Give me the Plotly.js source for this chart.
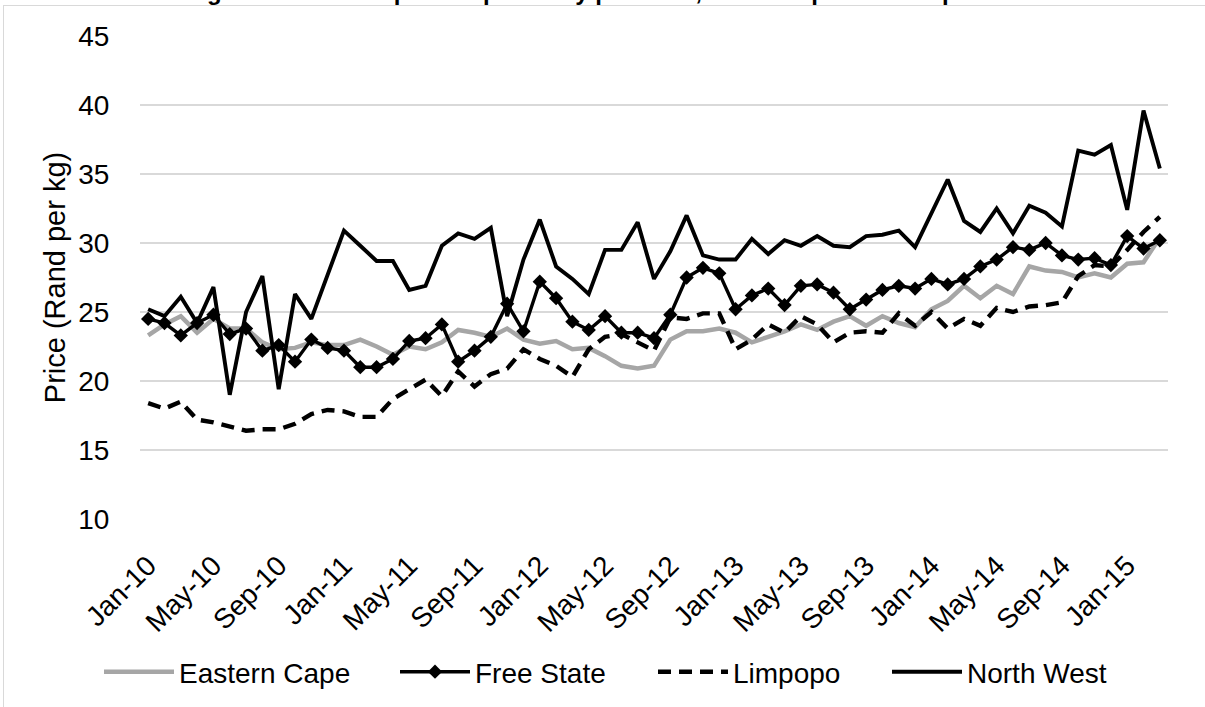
<!DOCTYPE html>
<html>
<head>
<meta charset="utf-8">
<script src="https://cdn.plot.ly/plotly-3.0.1.min.js"></script>
<style>
  html, body { margin: 0; padding: 0; background: #ffffff; }
  #wrap { position: relative; width: 1205px; height: 707px; overflow: hidden; }
  #chart { width: 1205px; height: 707px; }
  #frame { position: absolute; left: 3px; top: 5px; width: 1300px; height: 800px;
           border-left: 1.5px solid #d9d9d9; border-top: 1.5px solid #d9d9d9; pointer-events: none; }
</style>
</head>
<body>
<div id="wrap">
  <div id="chart"></div>
  <div id="frame"></div>
</div>
<script>
// Months (categories)
const months = [
  "Jan-10","Feb-10","Mar-10","Apr-10","May-10","Jun-10","Jul-10","Aug-10","Sep-10","Oct-10","Nov-10","Dec-10",
  "Jan-11","Feb-11","Mar-11","Apr-11","May-11","Jun-11","Jul-11","Aug-11","Sep-11","Oct-11","Nov-11","Dec-11",
  "Jan-12","Feb-12","Mar-12","Apr-12","May-12","Jun-12","Jul-12","Aug-12","Sep-12","Oct-12","Nov-12","Dec-12",
  "Jan-13","Feb-13","Mar-13","Apr-13","May-13","Jun-13","Jul-13","Aug-13","Sep-13","Oct-13","Nov-13","Dec-13",
  "Jan-14","Feb-14","Mar-14","Apr-14","May-14","Jun-14","Jul-14","Aug-14","Sep-14","Oct-14","Nov-14","Dec-14",
  "Jan-15","Feb-15","Mar-15"
];

// Tick labels shown on the x axis
const tickLabels = ["Jan-10","May-10","Sep-10","Jan-11","May-11","Sep-11","Jan-12","May-12","Sep-12",
                    "Jan-13","May-13","Sep-13","Jan-14","May-14","Sep-14","Jan-15"];

// Series values (Rand per kg)
const easternCape = [
  23.3,24.1,24.7,23.5,24.5,23.8,23.8,22.8,22.3,22.4,22.8,22.6,
  22.6,23.0,22.5,21.9,22.5,22.3,22.8,23.7,23.5,23.2,23.8,23.0,
  22.7,22.9,22.3,22.4,21.8,21.1,20.9,21.1,23.0,23.6,23.6,23.8,
  23.5,22.8,23.2,23.6,24.1,23.7,24.3,24.7,24.0,24.7,24.2,23.9,
  25.2,25.8,26.9,26.0,26.9,26.3,28.3,28.0,27.9,27.5,27.8,27.5,
  28.5,28.6,30.4
];
const freeState = [
  24.5,24.2,23.3,24.2,24.8,23.4,23.8,22.2,22.6,21.4,23.0,22.4,
  22.2,21.0,21.0,21.6,22.9,23.1,24.1,21.4,22.2,23.2,25.6,23.6,
  27.2,26.0,24.3,23.7,24.7,23.5,23.5,23.1,24.8,27.5,28.2,27.8,
  25.2,26.2,26.7,25.5,26.9,27.0,26.4,25.2,25.9,26.6,26.9,26.7,
  27.4,27.0,27.4,28.3,28.8,29.7,29.5,30.0,29.1,28.8,28.9,28.4,
  30.5,29.6,30.2
];
const limpopo = [
  18.4,18.0,18.5,17.2,17.0,16.7,16.4,16.5,16.5,16.9,17.6,17.9,
  17.8,17.4,17.4,18.7,19.4,20.1,18.9,20.7,19.6,20.5,20.9,22.3,
  21.6,21.1,20.3,22.3,23.2,23.4,22.8,22.2,24.6,24.5,24.9,24.9,
  22.3,23.0,24.1,23.5,24.7,24.1,22.8,23.5,23.6,23.5,24.9,24.0,
  25.0,23.8,24.5,24.0,25.3,25.0,25.4,25.5,25.7,27.6,28.4,28.3,
  29.5,30.8,31.9
];
const northWest = [
  25.2,24.7,26.1,24.2,26.8,19.0,25.0,27.6,19.4,26.3,24.5,27.7,
  30.9,29.8,28.7,28.7,26.6,26.9,29.8,30.7,30.3,31.1,24.7,28.8,
  31.7,28.3,27.4,26.3,29.5,29.5,31.5,27.4,29.4,32.0,29.1,28.8,
  28.8,30.3,29.2,30.2,29.8,30.5,29.8,29.7,30.5,30.6,30.9,29.7,
  32.2,34.6,31.6,30.8,32.5,30.7,32.7,32.2,31.2,36.7,36.4,37.1,
  32.4,39.6,35.4
];

const FONT = "Liberation Sans, Arial, sans-serif";

const traces = [
  {
    x: months, y: easternCape, name: "Eastern Cape", type: "scatter", mode: "lines",
    line: { color: "#a6a6a6", width: 4.5 }, legend: "legend"
  },
  {
    x: months, y: freeState, name: "Free State", type: "scatter", mode: "lines+markers",
    line: { color: "#000000", width: 3.4 },
    marker: { symbol: "diamond", size: 11, color: "#000000" }, legend: "legend2"
  },
  {
    x: months, y: limpopo, name: "Limpopo", type: "scatter", mode: "lines",
    line: { color: "#000000", width: 4.4, dash: "13px,8px" }, legend: "legend3"
  },
  {
    x: months, y: northWest, name: "North West", type: "scatter", mode: "lines",
    line: { color: "#000000", width: 3.9 }, legend: "legend4"
  }
];

function legendAt(xpx) {
  return {
    orientation: "h", xref: "container", yref: "container",
    x: xpx / 1205, xanchor: "left", y: (707 - 672) / 707, yanchor: "middle",
    font: { family: FONT, size: 28, color: "#000000" },
    bgcolor: "rgba(0,0,0,0)", itemwidth: 70, tracegroupgap: 0
  };
}

const layout = {
  width: 1205, height: 707,
  margin: { l: 140, r: 37, t: 36, b: 188 },
  paper_bgcolor: "#ffffff", plot_bgcolor: "#ffffff",
  font: { family: FONT, size: 28, color: "#000000" },
  title: {
    text: "<b>Figure 6: Chicken portion prices by province, selected pieces and provinces</b>",
    font: { family: FONT, size: 24, color: "#000000" },
    xref: "container", x: 0.515, xanchor: "center",
    yref: "container", y: 1, yanchor: "bottom", pad: { b: 0 }
  },
  showlegend: true,
  legend: legendAt(99),
  legend2: legendAt(395),
  legend3: legendAt(653),
  legend4: legendAt(887),
  xaxis: {
    type: "category",
    range: [-0.5, months.length - 0.5],
    tickmode: "array", tickvals: tickLabels, ticktext: tickLabels,
    tickangle: -45,
    ticks: "outside", ticklen: 18, tickcolor: "rgba(0,0,0,0)",
    showgrid: false, zeroline: false, showline: false,
    tickfont: { family: FONT, size: 28, color: "#000000" },
    automargin: false
  },
  yaxis: {
    range: [10, 45], dtick: 5, tick0: 10,
    showgrid: true, gridcolor: "#d9d9d9", gridwidth: 1.4,
    zeroline: false, showline: false,
    ticks: "outside", ticklen: 24, tickcolor: "rgba(0,0,0,0)",
    tickfont: { family: FONT, size: 28, color: "#000000" },
    title: { text: "Price (Rand per kg)", font: { family: FONT, size: 29, color: "#000000" }, standoff: 4 },
    automargin: false
  }
};

Plotly.newPlot("chart", traces, layout, { staticPlot: true, displayModeBar: false });
</script>
</body>
</html>
